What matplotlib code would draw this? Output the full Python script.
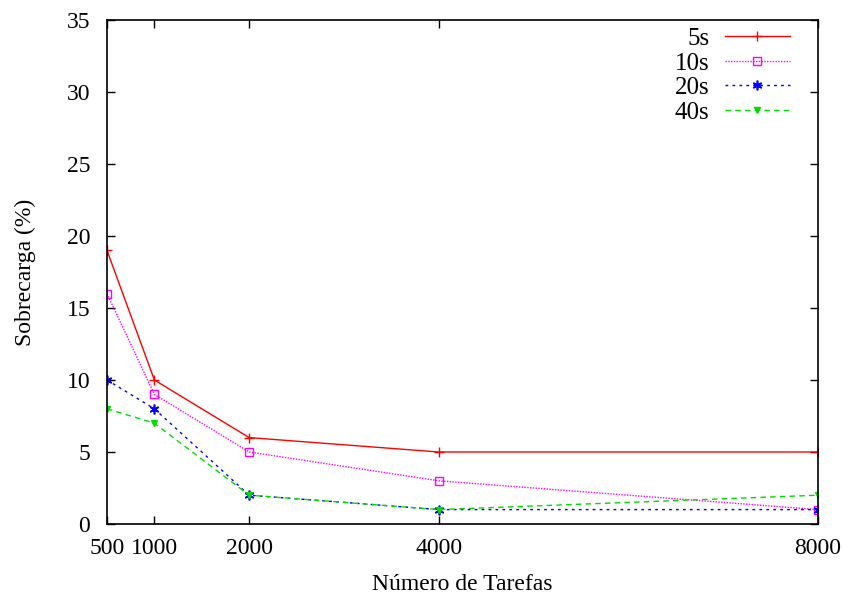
import matplotlib
matplotlib.use("Agg")
import matplotlib.pyplot as plt

plt.rcParams['font.family'] = ['Liberation Serif', 'DejaVu Serif']

tarefas = [500, 1000, 2000, 4000, 8000]
s5 = [19, 10, 6, 5, 5]
s10 = [16, 9, 5, 3, 1]
s20 = [10, 8, 2, 1, 1]
s40 = [8, 7, 2, 1, 2]
labels = ['5s', '10s', '20s', '40s']

fig = plt.figure(figsize=(8.45, 5.97), dpi=100)
ax = fig.add_axes([0.1266, 0.1223, 0.968 - 0.1266, 0.9665 - 0.1223])

ax.plot(tarefas, s5, color='#ff0000', lw=1.0, ls='-', marker='+', ms=7, mew=1.0, label=labels[0])
ax.plot(tarefas, s10, color='#ff00ff', lw=1.0, ls=(0, (1, 1)), marker='s', ms=6, mfc='none', mew=1.0, label=labels[1])
ax.plot(tarefas, s20, color='#0000ff', lw=1.0, ls=(0, (2, 3)), marker=(6, 2, 0), ms=7, mew=1.2, label=labels[2])
ax.plot(tarefas, s40, color='#00dd00', lw=1.0, ls=(0, (4, 3)), marker='v', ms=4, label=labels[3])

ax.set_xlim(500, 8000)
ax.set_ylim(0, 35)
ax.set_xticks(tarefas)
ax.set_yticks(range(0, 36, 5))
ax.tick_params(direction='in', top=True, right=True, labelsize=17, length=6, width=1)
ax.tick_params(axis='y', pad=12)
ax.tick_params(axis='x', pad=10)
ax.set_xlabel('Número de Tarefas', fontsize=17, labelpad=11)
ax.set_ylabel('Sobrecarga (%)', fontsize=17, labelpad=22)
for sp in ax.spines.values():
    sp.set_linewidth(1.2)

leg = ax.legend(loc='upper right', frameon=False, markerfirst=False, fontsize=18,
                handlelength=2.6, handletextpad=0.6, labelspacing=0.08,
                borderaxespad=0.0, borderpad=0.0,
                bbox_to_anchor=(0.96, 0.985))

fig.savefig('out.png', dpi=100)
